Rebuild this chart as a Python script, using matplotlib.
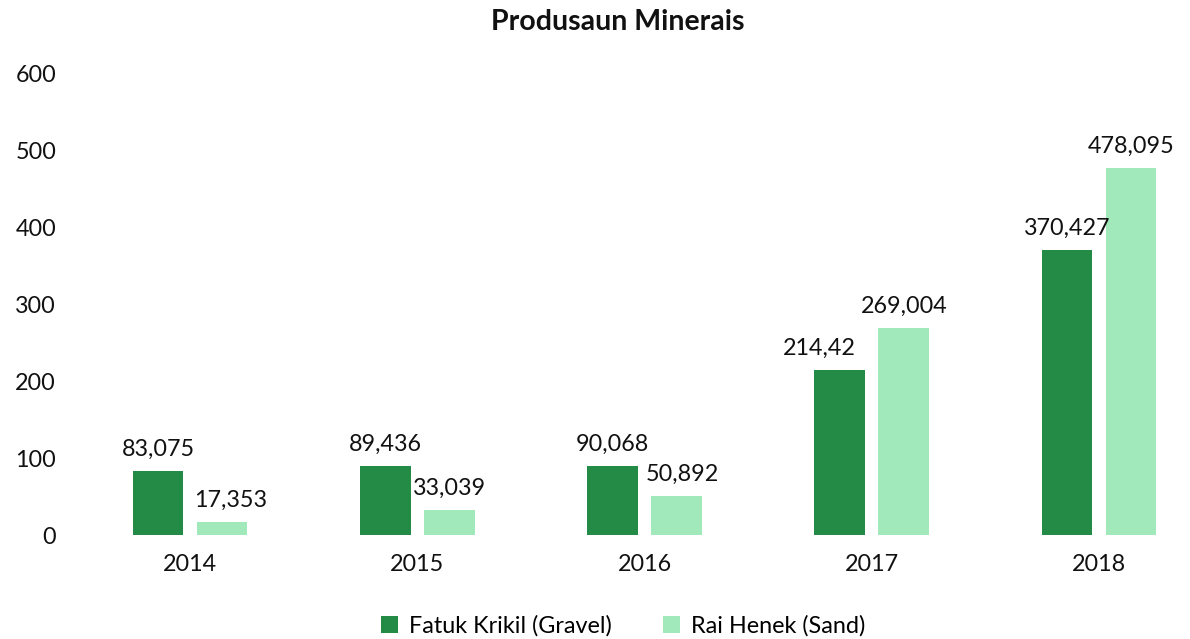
import matplotlib
matplotlib.use("Agg")
import matplotlib.pyplot as plt
import numpy as np

years = ["2014", "2015", "2016", "2017", "2018"]
gravel = [83.075, 89.436, 90.068, 214.42, 370.427]
sand = [17.353, 33.039, 50.892, 269.004, 478.095]
gravel_labels = ["83,075", "89,436", "90,068", "214,42", "370,427"]
sand_labels = ["17,353", "33,039", "50,892", "269,004", "478,095"]
yticks = [0, 100, 200, 300, 400, 500, 600]

plt.rcParams['font.family'] = ['Lato', 'DejaVu Sans']

W, H = 1190, 639
fig = plt.figure(figsize=(W / 100, H / 100), dpi=100)
left_px, right_px = 70, 1185
top_px, bot_px = 74, 535
ax = fig.add_axes([left_px / W, 1 - bot_px / H, (right_px - left_px) / W, (bot_px - top_px) / H])

step = 227.25
xlim_lo = (left_px - 190) / step
xlim_hi = (right_px - 190) / step

x = np.arange(len(years))
bw = 0.224
off = 0.141
c_gravel = "#238B45"
c_sand = "#A1E9BB"
b1 = ax.bar(x - off, gravel, bw, color=c_gravel, label="Fatuk Krikil (Gravel)")
b2 = ax.bar(x + off, sand, bw, color=c_sand, label="Rai Henek (Sand)")

fs = 16.8
g_dx = [0, 0, 0, -15, 0]
s_dx = [6, 0, 4, 0, 0]
for i in range(len(years)):
    ax.annotate(gravel_labels[i], (x[i] - off, gravel[i]), xytext=(g_dx[i], 8),
                textcoords="offset points", ha="center", va="bottom", fontsize=fs, color="#111111")
    ax.annotate(sand_labels[i], (x[i] + off, sand[i]), xytext=(s_dx[i], 8),
                textcoords="offset points", ha="center", va="bottom", fontsize=fs, color="#111111")

ax.set_xlim(xlim_lo, xlim_hi)
ax.set_ylim(0, 600)
ax.set_yticks(yticks)
ax.set_yticklabels([str(v) for v in yticks])
ax.set_xticks(x)
ax.set_xticklabels(years)
ax.tick_params(axis='both', length=0, labelsize=fs, colors="#111111")
ax.tick_params(axis='y', pad=10)
ax.tick_params(axis='x', pad=14)
for s in ax.spines.values():
    s.set_visible(False)

fig.text(618 / W, 1 - 22 / H, "Produsaun Minerais", ha="center", va="center",
         fontsize=20.5, fontweight="bold", color="#111111")

fig.legend(handles=[b1, b2], loc="center", bbox_to_anchor=(623 / W, 1 - 626 / H),
           ncol=2, frameon=False, fontsize=fs, handlelength=0.75, handleheight=0.75,
           columnspacing=2.2, handletextpad=0.45)

fig.savefig("out.png", dpi=100)
